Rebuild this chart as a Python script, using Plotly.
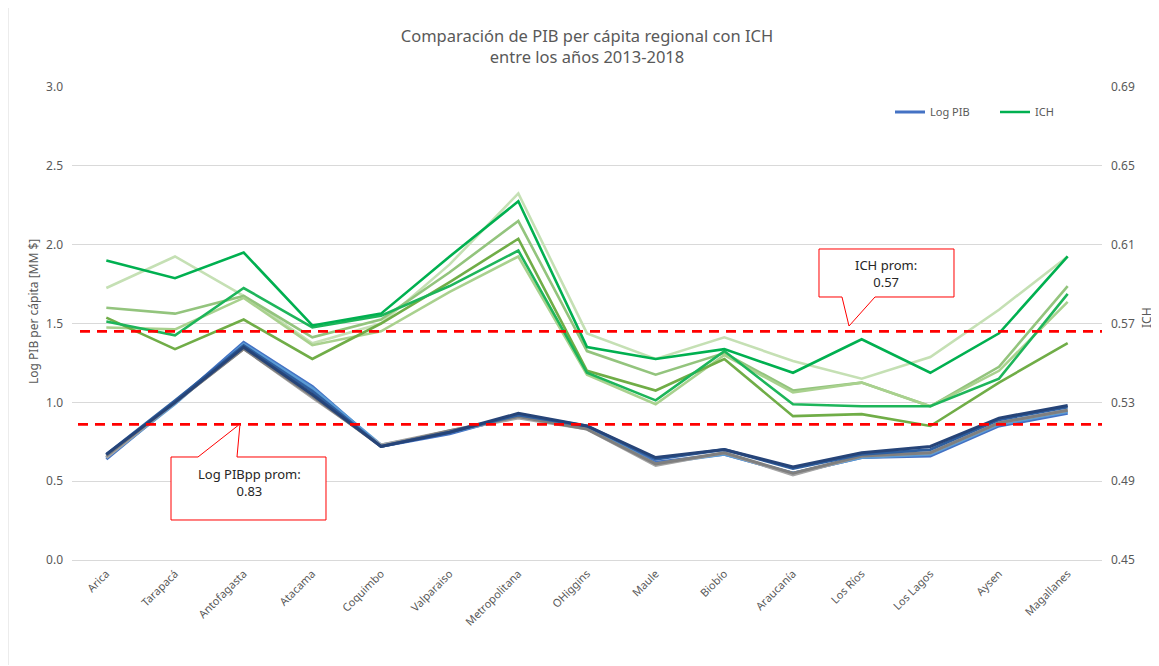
import plotly.graph_objects as go

# ---------------- data ----------------
regiones = ["Arica", "Tarapacá", "Antofagasta", "Atacama", "Coquimbo", "Valparaiso",
            "Metropolitana", "OHiggins", "Maule", "Biobío", "Araucanía", "Los Ríos",
            "Los Lagos", "Aysen", "Magallanes"]

anios = ["2013", "2014", "2015", "2016", "2017", "2018"]

# Log PIB per cápita (left axis)
log_pib_2013 = [0.64, 1.00, 1.38, 1.10, 0.72, 0.80, 0.92, 0.84, 0.62, 0.67, 0.55, 0.65, 0.66, 0.85, 0.93]
log_pib_2014 = [0.65, 0.99, 1.37, 1.09, 0.73, 0.81, 0.91, 0.84, 0.61, 0.67, 0.55, 0.65, 0.67, 0.86, 0.94]
log_pib_2015 = [0.65, 1.00, 1.34, 1.03, 0.73, 0.82, 0.90, 0.83, 0.60, 0.68, 0.54, 0.66, 0.68, 0.87, 0.95]
log_pib_2016 = [0.66, 1.00, 1.34, 1.04, 0.72, 0.82, 0.91, 0.83, 0.61, 0.68, 0.55, 0.66, 0.68, 0.87, 0.95]
log_pib_2017 = [0.67, 1.01, 1.36, 1.07, 0.72, 0.81, 0.92, 0.85, 0.64, 0.70, 0.58, 0.67, 0.70, 0.89, 0.97]
log_pib_2018 = [0.67, 1.00, 1.35, 1.05, 0.72, 0.81, 0.93, 0.85, 0.65, 0.70, 0.59, 0.68, 0.72, 0.90, 0.98]

# ICH (right axis)
ich_2013 = [0.602, 0.593, 0.606, 0.569, 0.575, 0.604, 0.632, 0.558, 0.552, 0.557, 0.545, 0.562, 0.545, 0.565, 0.604]
ich_2014 = [0.571, 0.564, 0.588, 0.568, 0.574, 0.589, 0.607, 0.545, 0.531, 0.556, 0.529, 0.528, 0.528, 0.542, 0.585]
ich_2015 = [0.573, 0.557, 0.572, 0.552, 0.570, 0.591, 0.613, 0.546, 0.536, 0.552, 0.523, 0.524, 0.518, 0.540, 0.560]
ich_2016 = [0.568, 0.567, 0.583, 0.559, 0.566, 0.586, 0.604, 0.544, 0.529, 0.554, 0.535, 0.540, 0.528, 0.546, 0.581]
ich_2017 = [0.578, 0.575, 0.584, 0.563, 0.572, 0.596, 0.622, 0.556, 0.544, 0.555, 0.536, 0.540, 0.528, 0.548, 0.589]
ich_2018 = [0.588, 0.604, 0.584, 0.560, 0.570, 0.600, 0.636, 0.565, 0.552, 0.563, 0.551, 0.542, 0.553, 0.577, 0.604]

log_pib_series = [log_pib_2013, log_pib_2014, log_pib_2015, log_pib_2016, log_pib_2017, log_pib_2018]
ich_series = [ich_2013, ich_2014, ich_2015, ich_2016, ich_2017, ich_2018]

pib_colors = ["#4472C4", "#5B9BD5", "#A5A5A5", "#7F7F7F", "#2E5E9E", "#264478"]
ich_colors = ["#00B050", "#1DB55A", "#70AD47", "#A9D18E", "#93C47D", "#C5E0B4"]
ich_draw_order = [5, 4, 3, 2, 1, 0]

pib_prom_label = "0.83"
ich_prom_label = "0.57"
pib_prom_line = 0.86   # left axis
ich_prom_line = 0.566  # right axis

left_ticks = [0.0, 0.5, 1.0, 1.5, 2.0, 2.5, 3.0]
right_ticks = [0.45, 0.49, 0.53, 0.57, 0.61, 0.65, 0.69]

# ---------------- geometry (page pixels; page body has an 8px margin) ----------------
OFF = 8
PAGE_W, PAGE_H = 1159, 666
W, H = PAGE_W - OFF, PAGE_H - OFF
PLOT_L, PLOT_R, PLOT_T, PLOT_B = 72, 1102, 87, 560   # page coordinates
ML, MR, MT, MB = PLOT_L - OFF, PAGE_W - PLOT_R, PLOT_T - OFF, PAGE_H - PLOT_B
PW, PH = PLOT_R - PLOT_L, PLOT_B - PLOT_T

def px(x):
    return (x - PLOT_L) / PW

def py(y):
    return (PLOT_B - y) / PH

fig = go.Figure()

for i in ich_draw_order:
    fig.add_trace(go.Scatter(
        x=regiones, y=ich_series[i], yaxis="y2", mode="lines",
        name="ICH" if i == 0 else "ICH " + anios[i],
        line=dict(color=ich_colors[i], width=2.6),
        showlegend=(i == 0), legendrank=2,
    ))

for i, serie in enumerate(log_pib_series):
    fig.add_trace(go.Scatter(
        x=regiones, y=serie, yaxis="y", mode="lines",
        name="Log PIB" if i == 0 else "Log PIB " + anios[i],
        line=dict(color=pib_colors[i], width=3),
        showlegend=(i == 0), legendrank=1,
    ))

gray = "#595959"
shapes = [
    dict(type="line", xref="paper", yref="y2", x0=px(80), x1=1.0,
         y0=ich_prom_line, y1=ich_prom_line,
         line=dict(color="#FF0000", width=2.6, dash="10px,7px"), layer="above"),
    dict(type="line", xref="paper", yref="y", x0=px(78), x1=1.0,
         y0=pib_prom_line, y1=pib_prom_line,
         line=dict(color="#FF0000", width=2.6, dash="10px,7px"), layer="above"),
]

def path(points):
    return "M " + " L ".join(f"{px(a):.5f},{py(b):.5f}" for a, b in points) + " Z"

shapes.append(dict(type="path", xref="paper", yref="paper",
                   path=path([(819, 249), (954, 249), (954, 297), (875, 297), (849, 326), (842, 297), (819, 297)]),
                   fillcolor="white", line=dict(color="#FF0000", width=1), layer="above"))
shapes.append(dict(type="path", xref="paper", yref="paper",
                   path=path([(171, 457), (198, 457), (240, 424), (237, 457), (326, 457), (326, 520), (171, 520)]),
                   fillcolor="white", line=dict(color="#FF0000", width=1), layer="above"))
# chart border (left edge visible)
shapes.append(dict(type="line", xref="paper", yref="paper", x0=px(8), x1=px(8), y0=py(665), y1=py(0),
                   line=dict(color="#D9D9D9", width=1)))

annotations = [
    dict(xref="paper", yref="paper", x=px(886), y=py(273), xanchor="center", yanchor="middle",
         text="ICH prom:<br>" + ich_prom_label,
         showarrow=False, font=dict(size=13, color="#262626", family="Noto Sans"), align="center"),
    dict(xref="paper", yref="paper", x=px(249), y=py(482), xanchor="center", yanchor="middle",
         text="Log PIBpp prom:<br>" + pib_prom_label,
         showarrow=False, font=dict(size=13, color="#262626", family="Noto Sans"), align="center"),
    dict(xref="paper", yref="paper", x=px(33), y=py(312), xanchor="center", yanchor="middle",
         text="Log PIB per cápita [MM $]", textangle=-90, showarrow=False,
         font=dict(size=12, color=gray, family="Noto Sans")),
    dict(xref="paper", yref="paper", x=px(1146), y=py(318), xanchor="center", yanchor="middle",
         text="ICH", textangle=-90, showarrow=False,
         font=dict(size=12, color=gray, family="Noto Sans")),
]

fig.update_layout(
    width=W, height=H,
    margin=dict(l=ML, r=MR, t=MT, b=MB, autoexpand=False),
    paper_bgcolor="white", plot_bgcolor="white",
    font=dict(family="Noto Sans", color=gray, size=12),
    title=dict(text="Comparación de PIB per cápita regional con ICH<br>entre los años 2013-2018",
               x=0.5, xref="paper", xanchor="center", y=1 - 34 / H, yanchor="top",
               font=dict(size=16.5, color=gray, family="Noto Sans")),
    xaxis=dict(type="category", tickangle=-45, showgrid=False, showline=True,
               linecolor="#D9D9D9", linewidth=1, ticks="", tickfont=dict(size=11, color=gray),
               ticklabelstandoff=2, automargin=False,
               range=[-0.5, len(regiones) - 0.5]),
    yaxis=dict(range=[0, 3], tickvals=left_ticks, tickformat=".1f", showgrid=True,
               gridcolor="#D9D9D9", gridwidth=1, zeroline=False, showline=False,
               ticks="", ticklabelstandoff=8, tickfont=dict(size=12, color=gray),
               automargin=False),
    yaxis2=dict(range=[0.45, 0.69], tickvals=right_ticks, tickformat=".2f", overlaying="y",
                side="right", showgrid=False, zeroline=False, showline=False, ticks="",
                ticklabelstandoff=8, tickfont=dict(size=12, color=gray), automargin=False),
    legend=dict(orientation="h", x=px(890), y=py(112), xanchor="left", yanchor="middle",
                entrywidth=60, entrywidthmode="pixels", font=dict(size=11, color=gray),
                bgcolor="rgba(0,0,0,0)"),
    shapes=shapes,
    annotations=annotations,
)

fig.write_html("out.html")
